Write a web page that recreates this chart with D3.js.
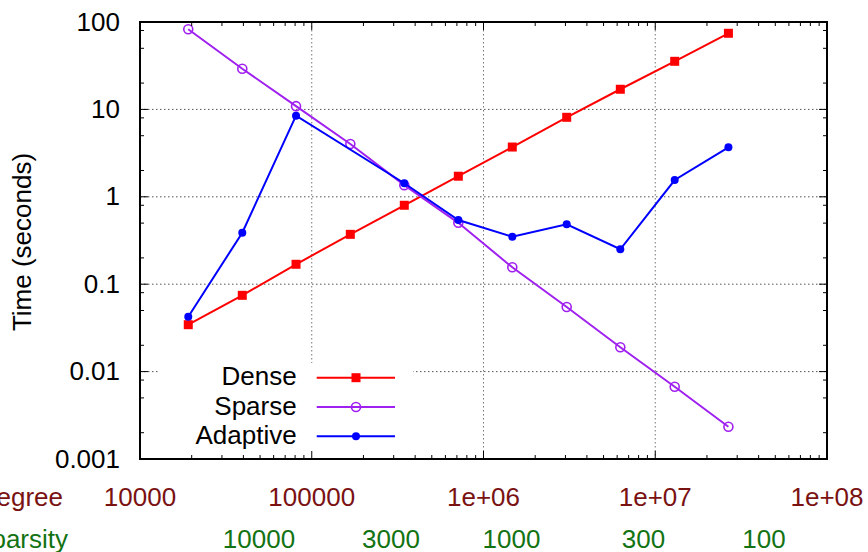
<!DOCTYPE html>
<html>
<head>
<meta charset="utf-8">
<script src="https://cdn.jsdelivr.net/npm/d3@7"></script>
<style>
  body { margin: 0; background: #fff; }
  svg { display: block; font-family: "Liberation Sans", Arial, Helvetica, sans-serif; }
</style>
</head>
<body>
<script>
// values
const degree   = [19100, 39400, 81000, 167700, 345800, 713500, 1471000, 3051000, 6260000, 12980000, 26670000];
const dense    = [0.0344, 0.0746, 0.169, 0.372, 0.80, 1.72, 3.71, 8.12, 17.0, 35.5, 74.3];
const sparse   = [82.5, 29.2, 10.9, 4.02, 1.36, 0.504, 0.156, 0.0548, 0.0190, 0.00671, 0.00234];
const adaptive = [0.0425, 0.388, 8.47, null, 1.43, 0.543, 0.350, 0.484, 0.251, 1.556, 3.68];

const degreeTicks   = [1e4, 1e5, 1e6, 1e7, 1e8];
const degreeLabels  = ["10000", "100000", "1e+06", "1e+07", "1e+08"];
const sparsityTicks = [10000, 3000, 1000, 300, 100];
const sparsityDomain = [29600, 56.3];
const timeTicks  = [100, 10, 1, 0.1, 0.01, 0.001];
const timeLabels = ["100", "10", "1", "0.1", "0.01", "0.001"];

const margin = {top: 22, right: 41, bottom: 93, left: 140};
const width = 868 - margin.left - margin.right, height = 552 - margin.top - margin.bottom;

const svg = d3.select("body").append("svg")
    .attr("width", 868).attr("height", 552);
const g = svg.append("g")
    .attr("transform", "translate(" + margin.left + "," + margin.top + ")");

const x = d3.scaleLog().domain([1e4, 1e8]).range([0, width]);
const y = d3.scaleLog().domain([0.001, 100]).range([height, 0]);
const xs = d3.scaleLog().domain(sparsityDomain).range([0, width]);

// grid
g.append("g").selectAll("line")
    .data(timeTicks.slice(1, -1))
    .enter().append("line")
    .attr("x1", 0).attr("x2", width)
    .attr("y1", d => y(d)).attr("y2", d => y(d))
    .attr("stroke", "#555").attr("stroke-dasharray", "1.5,2.5");
g.append("g").selectAll("line")
    .data(degreeTicks.slice(1, -1))
    .enter().append("line")
    .attr("y1", 0).attr("y2", height)
    .attr("x1", d => x(d)).attr("x2", d => x(d))
    .attr("stroke", "#777").attr("stroke-dasharray", "1.5,2.5");

// legend background hides the grid behind it
const leg = {x: 18, y: 341, w: 255, h: height - 341};
g.append("rect")
    .attr("x", leg.x).attr("y", leg.y).attr("width", leg.w).attr("height", leg.h)
    .attr("fill", "#fff");

const series = [
    {name: "Dense",    values: dense,    color: "#ff0000", marker: "square"},
    {name: "Sparse",   values: sparse,   color: "#a020f0", marker: "open"},
    {name: "Adaptive", values: adaptive, color: "#0000ff", marker: "dot"}
];

const line = d3.line().x(d => x(d[0])).y(d => y(d[1]));

function drawMarker(sel, s) {
    if (s.marker === "square") {
        sel.append("rect")
            .attr("x", -4.5).attr("y", -4.5).attr("width", 9).attr("height", 9)
            .attr("fill", s.color);
    } else if (s.marker === "open") {
        sel.append("circle").attr("r", 4.5)
            .attr("fill", "none").attr("stroke", s.color).attr("stroke-width", 1.6);
    } else {
        sel.append("circle").attr("r", 4).attr("fill", s.color);
    }
}

series.forEach(function (s) {
    const pts = degree.map((d, i) => [d, s.values[i]]).filter(p => p[1] != null);
    g.append("path")
        .datum(pts)
        .attr("d", line)
        .attr("fill", "none")
        .attr("stroke", s.color)
        .attr("stroke-width", 2);
    g.append("g").selectAll("g")
        .data(pts)
        .enter().append("g")
        .attr("transform", d => "translate(" + x(d[0]) + "," + y(d[1]) + ")")
        .each(function () { drawMarker(d3.select(this), s); });
});

// legend
series.forEach(function (s, i) {
    const ly = 355.7 + i * 29.3;
    g.append("text")
        .attr("x", 156.7).attr("y", ly + 7.5)
        .attr("text-anchor", "end")
        .style("font-size", "26px")
        .text(s.name);
    g.append("line")
        .attr("x1", 176.7).attr("x2", 255).attr("y1", ly).attr("y2", ly)
        .attr("stroke", s.color).attr("stroke-width", 2);
    const m = g.append("g").attr("transform", "translate(216," + ly + ")");
    drawMarker(m, s);
});

// ticks: majors and minors on all four sides
const xMinor = [];
for (let e = 4; e < 8; e++) for (let k = 2; k <= 9; k++) xMinor.push(k * Math.pow(10, e));
const yMinor = [];
for (let e = -3; e < 2; e++) [2, 5, 8].forEach(k => yMinor.push(k * Math.pow(10, e)));

const ticks = g.append("g").attr("stroke", "#000").attr("stroke-width", 1);
[[degreeTicks, 8], [xMinor, 4]].forEach(function (t) {
    t[0].forEach(function (d) {
        ticks.append("line").attr("x1", x(d)).attr("x2", x(d)).attr("y1", height).attr("y2", height - t[1]);
        ticks.append("line").attr("x1", x(d)).attr("x2", x(d)).attr("y1", 0).attr("y2", t[1]);
    });
});
[[timeTicks, 8], [yMinor, 4]].forEach(function (t) {
    t[0].forEach(function (d) {
        ticks.append("line").attr("y1", y(d)).attr("y2", y(d)).attr("x1", 0).attr("x2", t[1]);
        ticks.append("line").attr("y1", y(d)).attr("y2", y(d)).attr("x1", width).attr("x2", width - t[1]);
    });
});

// border
g.append("rect")
    .attr("width", width).attr("height", height)
    .attr("fill", "none").attr("stroke", "#000").attr("stroke-width", 2);

// y tick labels
g.append("g").selectAll("text")
    .data(timeTicks)
    .enter().append("text")
    .attr("x", -20).attr("y", d => y(d) + 8.5)
    .attr("text-anchor", "end")
    .style("font-size", "26px")
    .text((d, i) => timeLabels[i]);

// degree labels
g.append("g").selectAll("text")
    .data(degreeTicks)
    .enter().append("text")
    .attr("x", d => x(d)).attr("y", height + 47)
    .attr("text-anchor", "middle")
    .attr("fill", "#7a1212")
    .style("font-size", "26px")
    .text((d, i) => degreeLabels[i]);

// sparsity labels
g.append("g").selectAll("text")
    .data(sparsityTicks)
    .enter().append("text")
    .attr("x", d => xs(d)).attr("y", height + 89)
    .attr("text-anchor", "middle")
    .attr("fill", "#137313")
    .style("font-size", "26px")
    .text(d => d);

svg.append("text")
    .attr("x", 63).attr("y", margin.top + height + 47)
    .attr("text-anchor", "end").attr("fill", "#7a1212")
    .style("font-size", "26px").text("Degree");
svg.append("text")
    .attr("x", 68).attr("y", margin.top + height + 89)
    .attr("text-anchor", "end").attr("fill", "#137313")
    .style("font-size", "26px").text("Sparsity");

svg.append("text")
    .attr("transform", "translate(30.5,242) rotate(-90)")
    .attr("text-anchor", "middle")
    .style("font-size", "26px")
    .text("Time (seconds)");
</script>
</body>
</html>
